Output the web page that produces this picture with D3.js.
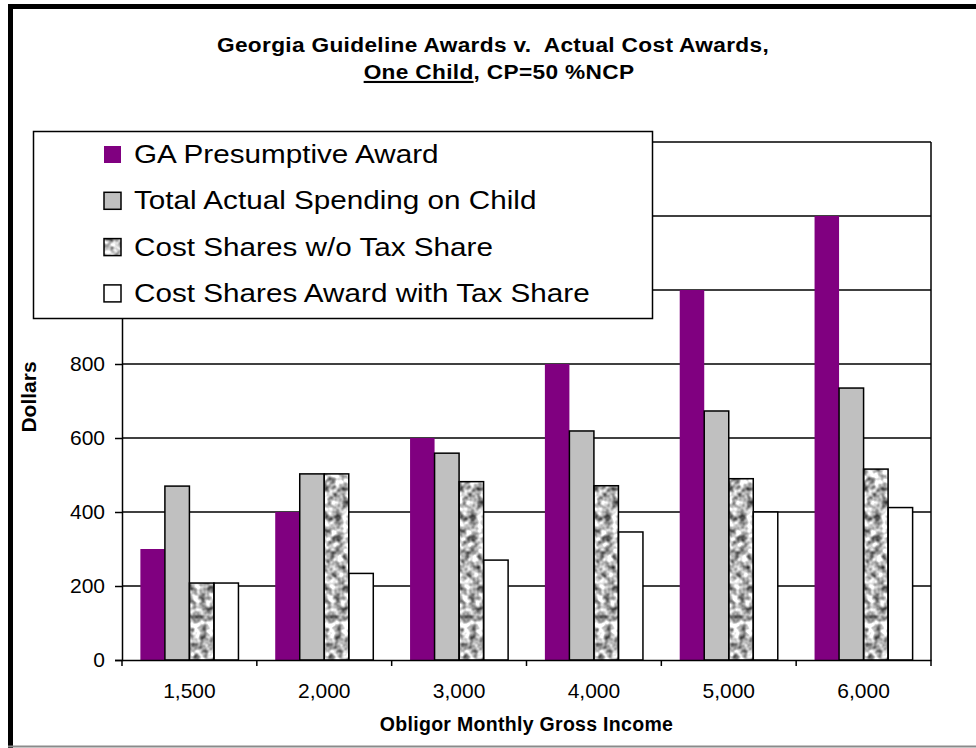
<!DOCTYPE html>
<html>
<head>
<meta charset="utf-8">
<script src="https://cdn.jsdelivr.net/npm/d3@7"></script>
<style>
  body { margin: 0; background: #fff; }
  svg text { font-family: "Liberation Sans", Arial, sans-serif; }
</style>
</head>
<body>
<div id="chart"></div>
<script>
// data
var incomes = ["1,500", "2,000", "3,000", "4,000", "5,000", "6,000"];
var seriesNames = ["GA Presumptive Award", "Total Actual Spending on Child",
  "Cost Shares w/o Tax Share", "Cost Shares Award with Tax Share"];
var gaAward = [300, 400, 600, 800, 1000, 1200];
var totalSpending = [470, 503, 559, 619, 673, 735];
var costNoTax = [208, 503, 482, 471, 490, 516];
var costWithTax = [208, 234, 270, 346, 400, 412];
var yTicks = [0, 200, 400, 600, 800, 1000, 1200, 1400];

var Width = 976, Height = 748;
var plotLeft = 122, plotRight = 931, plotTop = 142, plotBottom = 660;

var svg = d3.select("#chart").append("svg")
  .attr("width", Width)
  .attr("height", Height);

// granite-ish texture for the third series
var defs = svg.append("defs");
var flt = defs.append("filter").attr("id", "granite")
  .attr("x", 0).attr("y", 0).attr("width", 1).attr("height", 1)
  .attr("color-interpolation-filters", "sRGB");
flt.append("feTurbulence").attr("type", "fractalNoise")
  .attr("baseFrequency", 0.14).attr("numOctaves", 2).attr("seed", 11).attr("result", "noise");
flt.append("feColorMatrix").attr("in", "noise").attr("type", "matrix")
  .attr("values", "1.6 0 0 0 -0.08  1.6 0 0 0 -0.08  1.6 0 0 0 -0.08  0 0 0 0 1")
  .attr("result", "gray0");
flt.append("feGaussianBlur").attr("in", "gray0").attr("stdDeviation", 0.5).attr("result", "gray");
flt.append("feComposite").attr("in", "gray").attr("in2", "SourceGraphic").attr("operator", "in");

var fills = ["#800080", "#c0c0c0", "#b0b0b0", "#ffffff"];

// outer frame
svg.append("path")
  .attr("d", "M10.5," + Height + " V6.5 H" + Width)
  .attr("fill", "none").attr("stroke", "#000").attr("stroke-width", 5);
svg.append("line")
  .attr("x1", 8).attr("x2", Width).attr("y1", 746.5).attr("y2", 746.5)
  .attr("stroke", "#8a8a8a").attr("stroke-width", 2);

// title, slightly widened like the original
svg.append("text")
  .attr("transform", "translate(493,52) scale(1.08,1)")
  .attr("text-anchor", "middle")
  .attr("font-weight", "bold")
  .attr("font-size", 21)
  .attr("letter-spacing", 0.3)
  .style("white-space", "pre")
  .text("Georgia Guideline Awards v.  Actual Cost Awards,");
var line2 = svg.append("text")
  .attr("transform", "translate(499,79) scale(1.08,1)")
  .attr("text-anchor", "middle")
  .attr("font-weight", "bold")
  .attr("font-size", 21)
  .attr("letter-spacing", 0.3)
  .style("white-space", "pre");
line2.append("tspan").attr("text-decoration", "underline").text("One Child");
line2.append("tspan").text(", CP=50 %NCP");

// scales
var x = d3.scaleBand().domain(incomes).range([plotLeft, plotRight]).padding(0);
var xs = d3.scaleBand().domain(d3.range(4)).range([0, x.bandwidth()])
  .paddingInner(0).paddingOuter(0.75);
var y = d3.scaleLinear().domain([0, 1400]).range([plotBottom, plotTop]);

// gridlines
svg.append("g").selectAll("line")
  .data(yTicks.filter(function(d) { return d > 0; }))
  .enter().append("line")
  .attr("x1", plotLeft).attr("x2", plotRight)
  .attr("y1", function(d) { return y(d); })
  .attr("y2", function(d) { return y(d); })
  .attr("stroke", "#000").attr("stroke-width", 1.5);

// right border of plot
svg.append("line")
  .attr("x1", plotRight).attr("x2", plotRight).attr("y1", plotTop).attr("y2", plotBottom)
  .attr("stroke", "#000").attr("stroke-width", 1.5);

// bars
var allSeries = [gaAward, totalSpending, costNoTax, costWithTax];
var groups = svg.append("g").selectAll("g")
  .data(incomes).enter().append("g")
  .attr("transform", function(d) { return "translate(" + x(d) + ",0)"; });

function barData(d, i) {
  return allSeries.map(function(s, k) { return { k: k, v: s[i] }; });
}

groups.selectAll("rect.bar")
  .data(barData)
  .enter().append("rect")
  .attr("class", "bar")
  .attr("x", function(d) { return xs(d.k); })
  .attr("width", xs.bandwidth())
  .attr("y", function(d) { return y(d.v); })
  .attr("height", function(d) { return y(0) - y(d.v); })
  .attr("fill", function(d) { return fills[d.k]; })
  .attr("filter", function(d) { return d.k === 2 ? "url(#granite)" : null; });

// outlines for the non-purple bars
groups.selectAll("rect.outline")
  .data(function(d, i) {
    return barData(d, i).filter(function(b) { return b.k > 0; });
  })
  .enter().append("rect")
  .attr("class", "outline")
  .attr("x", function(d) { return xs(d.k); })
  .attr("width", xs.bandwidth())
  .attr("y", function(d) { return y(d.v); })
  .attr("height", function(d) { return y(0) - y(d.v); })
  .attr("fill", "none")
  .attr("stroke", "#000").attr("stroke-width", 1.5);

// y axis
var yAxis = d3.axisLeft(y).tickValues(yTicks).tickSize(7).tickPadding(10)
  .tickFormat(d3.format("d"));
var gy = svg.append("g").attr("transform", "translate(" + plotLeft + ",0)").call(yAxis);
gy.select(".domain").attr("stroke-width", 1.5);
gy.selectAll(".tick line").attr("stroke-width", 1.5);
gy.selectAll("text").attr("font-size", 21).attr("font-family", "Liberation Sans, Arial, sans-serif");

// x axis
var xAxis = d3.axisBottom(x).tickSize(0).tickPadding(23);
var gx = svg.append("g").attr("transform", "translate(0," + plotBottom + ")").call(xAxis);
gx.select(".domain").attr("stroke-width", 1.5);
gx.selectAll("text").attr("font-size", 21).attr("font-family", "Liberation Sans, Arial, sans-serif");
// tick marks between categories
svg.append("g").selectAll("line")
  .data(incomes.map(function(d) { return x(d); }).concat([plotRight]))
  .enter().append("line")
  .attr("x1", function(d) { return d; }).attr("x2", function(d) { return d; })
  .attr("y1", plotBottom).attr("y2", plotBottom + 6)
  .attr("stroke", "#000").attr("stroke-width", 1.5);

// axis titles
svg.append("text")
  .attr("x", (plotLeft + plotRight) / 2).attr("y", 731)
  .attr("text-anchor", "middle")
  .attr("font-weight", "bold").attr("font-size", 19.5)
  .attr("letter-spacing", 0.3)
  .text("Obligor Monthly Gross Income");

svg.append("text")
  .attr("transform", "translate(36,397) rotate(-90)")
  .attr("text-anchor", "middle")
  .attr("font-weight", "bold").attr("font-size", 21)
  .text("Dollars");

// legend
var legend = svg.append("g");
legend.append("rect")
  .attr("x", 33.5).attr("y", 131.5).attr("width", 619).attr("height", 187)
  .attr("fill", "#fff").attr("stroke", "#000").attr("stroke-width", 1.5);
var rows = legend.selectAll("g.row").data(seriesNames).enter().append("g")
  .attr("class", "row")
  .attr("transform", function(d, i) { return "translate(0," + (163 + i * 46.3) + ")"; });
rows.append("rect")
  .attr("x", 104).attr("y", -17).attr("width", 17).attr("height", 17)
  .attr("fill", function(d, i) { return fills[i]; })
  .attr("filter", function(d, i) { return i === 2 ? "url(#granite)" : null; });
rows.filter(function(d, i) { return i > 0; }).append("rect")
  .attr("x", 104).attr("y", -17).attr("width", 17).attr("height", 17)
  .attr("fill", "none").attr("stroke", "#000").attr("stroke-width", 1.5);
rows.append("text")
  .attr("transform", "translate(134,0) scale(1.12,1)")
  .attr("font-size", 26.5)
  .text(function(d) { return d; });
</script>
</body>
</html>
